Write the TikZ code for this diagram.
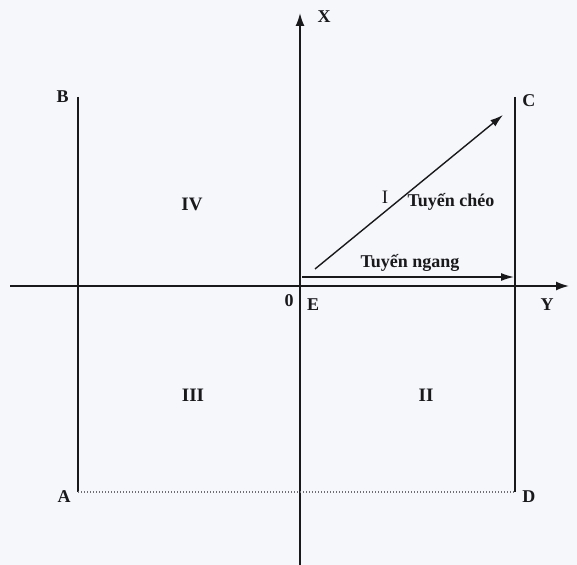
\documentclass[tikz,border=0pt]{standalone}
\usepackage{fontspec}
\setmainfont{Liberation Serif}
\usetikzlibrary{arrows.meta,positioning}
\definecolor{inkK}{RGB}{25,25,28}
\definecolor{paperW}{RGB}{246,247,251}
\definecolor{dotG}{RGB}{110,110,115}

\begin{document}
\begin{tikzpicture}[x=0.5pt, y=-0.5pt,
  axis/.style={line width=0.9pt, inkK, -{Latex[length=6.5pt,width=4.5pt]}},
  edge/.style={line width=0.9pt, inkK},
  route/.style={line width=0.7pt, inkK, -{Latex[length=6.5pt,width=4pt]}},
  lab/.style={font=\fontsize{9}{10}\selectfont\bfseries, text=inkK, inner sep=1pt},
  zone/.style={lab, font=\fontsize{9.5}{10}\selectfont\bfseries},
]
\useasboundingbox[fill=paperW] (0,0) rectangle (577,565);

% corners of the area and ends of the axes
\coordinate (B) at (78,97);
\coordinate (A) at (78,492);
\coordinate (C) at (515,97);
\coordinate (D) at (515,492);
\coordinate (O) at (300,286);
\coordinate (Xtop) at (300,13);
\coordinate (Xbot) at (300,565);
\coordinate (Yleft) at (10,286);
\coordinate (Yend) at (569,286);

% axes
\draw[axis] (Xbot) -- (Xtop);
\draw[axis] (Yleft) -- (Yend);

% borders of the area
\draw[edge] (B) -- (A);
\draw[edge] (C) -- (D);
\draw[dotG, line width=0.5pt, densely dotted] (A) -- (D);

% corner and axis labels
\node[lab, left=3.5pt of B] (lB) {B};
\node[lab, left=2.5pt of A, yshift=-2.5pt] (lA) {A};
\node[lab, right=2.5pt of C, yshift=-2pt] (lC) {C};
\node[lab, right=2.5pt of D, yshift=-2.5pt] (lD) {D};
\node[lab] (lX) at (324,17) {X};
\node[lab] (lY) at (547,305) {Y};
\node[lab] (l0) at (289,301) {0};
\node[lab] (lE) at (313,305) {E};

% quarters
\node[zone] (q1) at (385,197) {\mdseries I};
\node[zone] (q2) at (426,395) {II};
\node[zone] (q3) at (193,395) {III};
\node[zone] (q4) at (192,204) {IV};

% survey lines
\coordinate (cheoS) at (315,269);
\coordinate (cheoE) at (503,115);
\coordinate (ngangS) at (302,277);
\coordinate (ngangE) at (514,277);
\draw[route] (cheoS) -- (cheoE);
\draw[route] (ngangS) -- (ngangE);
\node[lab] (tCheo) at (451,202) {Tuyến chéo};
\node[lab] (tNgang) at (410,263) {Tuyến ngang};

\end{tikzpicture}
\end{document}
